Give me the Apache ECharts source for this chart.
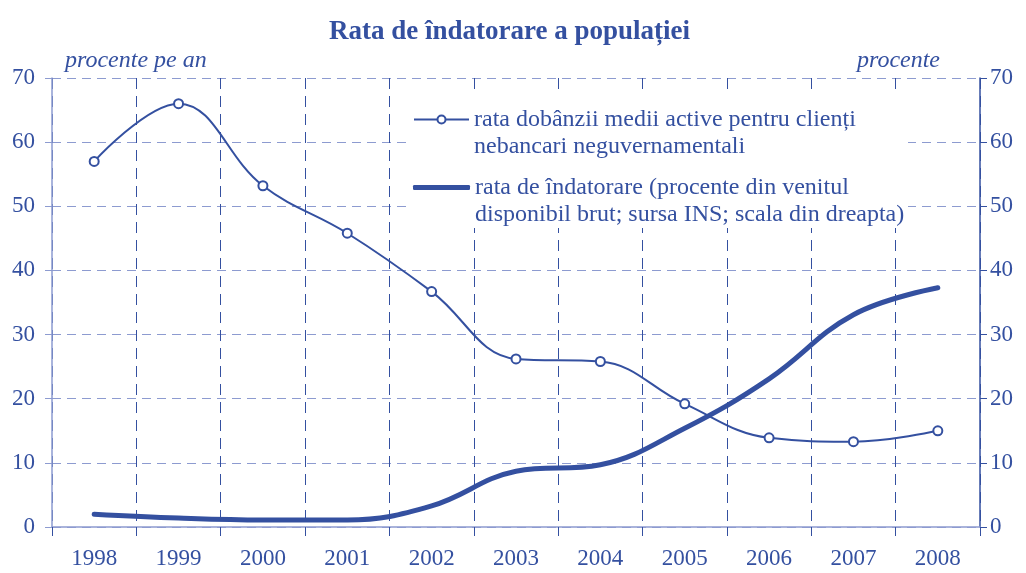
<!DOCTYPE html>
<html><head><meta charset="utf-8">
<script src="https://cdn.jsdelivr.net/npm/echarts@6/dist/echarts.min.js"></script>
<style>html,body{margin:0;padding:0;background:#fff}#c{width:1026px;height:573px}</style>
</head><body><div id="c"></div>
<script>
const years = ['1998','1999','2000','2001','2002','2003','2004','2005','2006','2007','2008'];
const dobanda = [57.0, 66.0, 53.2, 45.8, 36.7, 26.2, 25.8, 19.2, 13.9, 13.3, 15.0];
const indatorare = [2.0, 1.4, 1.1, 1.1, 3.3, 8.7, 9.7, 15.4, 23.1, 33.1, 37.3];
const yTicks = [0, 10, 20, 30, 40, 50, 60, 70];
const nameDobanda = 'rata dobânzii medii active pentru clienți\nnebancari neguvernamentali';
const nameIndatorare = 'rata de îndatorare (procente din venitul\ndisponibil brut; sursa INS; scala din dreapta)';

const C = '#3450a0';
const LIGHT = '#8d9bd0';
const FONT = '"Liberation Serif", "Times New Roman", serif';

const chart = echarts.init(document.getElementById('c'));
const legendText = {color: C, fontFamily: FONT, fontSize: 24, lineHeight: 27};
const fmt = name => ' \n' + name;
chart.setOption({
  animation: false,
  backgroundColor: '#fff',
  title: {text: 'Rata de îndatorare a populației', left: 324, top: 14,
    textStyle: {color: C, fontFamily: FONT, fontSize: 27, fontWeight: 'bold'}},
  grid: {left: 52, right: 46, top: 78, bottom: 46},
  graphic: [{type: 'rect', z: 3, shape: {x: 406, y: 95, width: 502, height: 133}, style: {fill: '#fff'}}],
  legend: [
    {data: [nameDobanda], formatter: fmt, orient: 'vertical', left: 408, top: 74, z: 5,
     itemWidth: 55, itemHeight: 10, itemGap: 0, textStyle: legendText},
    {data: [{name: nameIndatorare, icon: 'roundRect'}], formatter: fmt, orient: 'vertical', left: 408, top: 142, z: 5,
     itemWidth: 57, itemHeight: 5, itemGap: 0, itemStyle: {color: C}, textStyle: legendText}
  ],
  xAxis: {type: 'category', data: years, boundaryGap: true,
    axisLine: {lineStyle: {color: LIGHT, width: 1.5}},
    axisTick: {show: true, length: 9, lineStyle: {color: C}},
    axisLabel: {color: C, fontFamily: FONT, fontSize: 23, margin: 20},
    splitLine: {show: true, lineStyle: {color: C, type: [11, 7], width: 1}}},
  yAxis: [
    {type: 'value', min: 0, max: 70, interval: 10, position: 'left',
     name: 'procente pe an', nameLocation: 'end', nameGap: 5,
     nameTextStyle: {color: C, fontFamily: FONT, fontSize: 24, fontStyle: 'italic', align: 'left', padding: [0, 0, 0, 13]},
     axisLine: {show: true, lineStyle: {color: LIGHT, width: 1.5}},
     axisTick: {show: true, length: 7, lineStyle: {color: LIGHT}},
     axisLabel: {color: C, fontFamily: FONT, fontSize: 23, margin: 17},
     splitLine: {show: true, lineStyle: {color: LIGHT, type: [9, 6], width: 1}}},
    {type: 'value', min: 0, max: 70, interval: 10, position: 'right',
     name: 'procente', nameLocation: 'end', nameGap: 5,
     nameTextStyle: {color: C, fontFamily: FONT, fontSize: 24, fontStyle: 'italic', align: 'right', padding: [0, 40, 0, 0]},
     axisLine: {show: true, lineStyle: {color: C, width: 1.5}},
     axisTick: {show: true, length: 7, lineStyle: {color: C}},
     axisLabel: {color: C, fontFamily: FONT, fontSize: 23, margin: 10},
     splitLine: {show: false}}
  ],
  series: [
    {name: nameDobanda, type: 'line', yAxisIndex: 0, data: dobanda, smooth: 0.4,
     symbol: 'circle', symbolSize: 9, showSymbol: true,
     lineStyle: {color: C, width: 2}, itemStyle: {color: '#fff', borderColor: C, borderWidth: 2}, z: 4},
    {name: nameIndatorare, type: 'line', yAxisIndex: 1, data: indatorare, smooth: 0.4,
     symbol: 'none', lineStyle: {color: C, width: 5, cap: 'round'}, itemStyle: {color: C}, z: 4}
  ]
});
</script></body></html>
